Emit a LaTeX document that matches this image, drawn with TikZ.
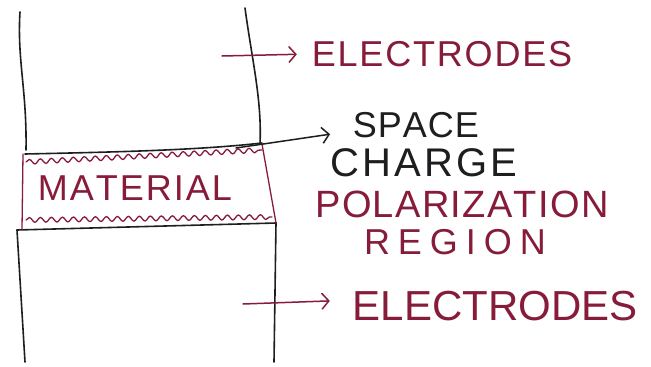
\documentclass[tikz,border=0pt]{standalone}
\usepackage{fontspec}
\setmainfont{Liberation Sans}
\usetikzlibrary{arrows.meta,decorations.pathmorphing}
\definecolor{ink}{RGB}{30,30,32}
\definecolor{marker}{RGB}{135,28,58}
\tikzset{
  pen/.style={draw=ink,line width=1.6pt,line cap=round,line join=round},
  redpen/.style={draw=marker,line width=1.3pt,line cap=round},
  wave/.style={redpen,decorate,decoration={snake,amplitude=2.4pt,segment length=11pt}},
  arr/.style={line width=1.5pt,line cap=round,-{Straight Barb[length=7pt,width=16pt,line width=1.5pt]}},
  lbl/.style={inner sep=0pt,anchor=center},
}
% #1 width, #2 font size, #3 letters separated by \hfil
\newcommand{\hw}[3]{{\fontsize{#2}{#2}\selectfont\makebox[#1pt]{#3}}}
\begin{document}
\begin{tikzpicture}[x=1pt,y=-1pt]
\useasboundingbox[fill=white] (0,0) rectangle (651,367);
% upper electrode
\coordinate (ul1) at (20,12);
\coordinate (ul2) at (26,150);
\coordinate (ur1) at (245,8);
\coordinate (ur2) at (260,144);
\draw[pen] (ul1) .. controls (17,60) and (27,90) .. (ul2);
\draw[pen] (ur1) .. controls (252,60) and (262,100) .. (ur2);
\draw[pen] (25,154) .. controls (120,152) and (200,150) .. (262,143);
% lower electrode
\coordinate (ll1) at (17,230);
\coordinate (ll2) at (25,362);
\coordinate (lr1) at (276,223);
\coordinate (lr2) at (274,362);
\draw[pen] (ll1) -- (lr1);
\draw[pen] (ll1) -- (ll2);
\draw[pen] (lr1) -- (lr2);
% material
\draw[redpen] (23,154) -- (22,229);
\draw[redpen] (262,144) -- (276,223);
\draw[wave] (26,162) -- (262,150);
\draw[wave] (26,220) -- (272,217);
\node[lbl,text=marker] (mat) at (135,188) {\hw{198}{36}{M\hfil A\hfil T\hfil E\hfil R\hfil I\hfil A\hfil L}};
% labels
\node[lbl,text=marker] (e1) at (442,54) {\hw{264}{36}{E\hfil L\hfil E\hfil C\hfil T\hfil R\hfil O\hfil D\hfil E\hfil S}};
\node[lbl,text=ink] (sp) at (416,125) {\hw{128}{36}{S\hfil P\hfil A\hfil C\hfil E}};
\node[lbl,text=ink] (ch) at (424,163) {\hw{192}{40}{C\hfil H\hfil A\hfil R\hfil G\hfil E}};
\node[lbl,text=marker] (po) at (462,204) {\hw{296}{38}{P\hfil O\hfil L\hfil A\hfil R\hfil I\hfil Z\hfil A\hfil T\hfil I\hfil O\hfil N}};
\node[lbl,text=marker] (re) at (455,242) {\hw{198}{36}{R\hfil E\hfil G\hfil I\hfil O\hfil N}};
\node[lbl,text=marker] (e2) at (495,306) {\hw{280}{42}{E\hfil L\hfil E\hfil C\hfil T\hfil R\hfil O\hfil D\hfil E\hfil S}};
% arrows
\coordinate (a1) at (222,56);
\coordinate (a2) at (236,148);
\coordinate (a3) at (243,304);
\draw[arr,draw=marker,shorten >=13pt] (a1) -- (e1.west);
\draw[arr,draw=ink,shorten >=22pt] (a2) -- ([yshift=-6pt]sp.west);
\draw[arr,draw=marker,shorten >=25pt] (a3) -- ([yshift=6pt]e2.west);
\end{tikzpicture}
\end{document}
